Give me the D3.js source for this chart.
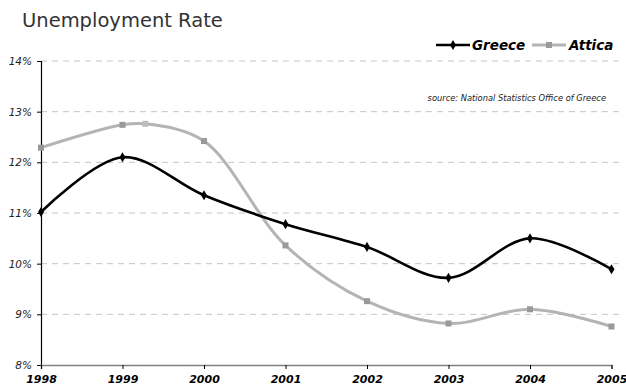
<!DOCTYPE html>
<html>
<head>
<meta charset="utf-8">
<script src="https://cdn.jsdelivr.net/npm/d3@7"></script>
<style>
  html, body { margin: 0; padding: 0; background: #fff; }
  svg { display: block; }
</style>
</head>
<body>
<svg id="chart" width="626" height="389"></svg>
<script>
// Unemployment rate, Greece vs. Attica region (percent)
const years = [1998, 1999, 2000, 2001, 2002, 2003, 2004, 2005];
const greeceYears = [1998, 1999, 2000, 2001, 2002, 2003, 2004, 2005];
const greeceRate  = [11.02, 12.10, 11.35, 10.78, 10.33, 9.72, 10.50, 9.89];
const atticaYears = [1998, 1999, 1999.28, 2000, 2001, 2002, 2003, 2004, 2005];
const atticaRate  = [12.29, 12.74, 12.76, 12.42, 10.36, 9.26, 8.82, 9.10, 8.76];
const yTicks = [8, 9, 10, 11, 12, 13, 14];
const seriesNames = ["Greece", "Attica"];
const titleText = "Unemployment Rate";
const sourceText = "source: National Statistics Office of Greece";

const svg = d3.select("#chart");
const font = "'DejaVu Sans', Verdana, sans-serif";

const x = d3.scaleLinear().domain([1998, 2005]).range([41, 611.5]);
const y = d3.scaleLinear().domain([8, 14]).range([365, 61]);

// title
svg.append("text")
  .attr("x", 22).attr("y", 27)
  .attr("font-family", font).attr("font-size", 19.5)
  .attr("fill", "#333")
  .text(titleText);

// horizontal dashed gridlines
svg.append("g").selectAll("line")
  .data(yTicks.filter(d => d > 8))
  .join("line")
  .attr("x1", x(1998)).attr("x2", x(2005) + 8)
  .attr("y1", d => y(d)).attr("y2", d => y(d))
  .attr("stroke", "#c4c4c4").attr("stroke-width", 1)
  .attr("stroke-dasharray", "6,5");

// y axis
const yAxis = d3.axisLeft(y).tickValues(yTicks).tickSize(4).tickFormat(d => d + "%");
const gy = svg.append("g").attr("transform", `translate(${x(1998)},0)`).call(yAxis);
gy.select(".domain").attr("stroke", "#000").attr("stroke-width", 1.2);
gy.selectAll(".tick line").attr("stroke", "#000");
gy.selectAll(".tick text")
  .attr("font-family", font).attr("font-size", 10.5)
  .attr("font-style", "italic").attr("fill", "#222")
  .attr("x", -9);

// x axis
const xAxis = d3.axisBottom(x).tickValues(years).tickSize(4).tickFormat(d3.format("d"));
const gx = svg.append("g").attr("transform", `translate(0,${y(8)})`).call(xAxis);
gx.select(".domain").attr("stroke", "#808080").attr("stroke-width", 1.5);
gx.selectAll(".tick line").attr("stroke", "#000");
gx.selectAll(".tick text")
  .attr("font-family", font).attr("font-size", 11)
  .attr("font-style", "italic").attr("font-weight", "bold")
  .attr("fill", "#000").attr("y", 10);

const line = d3.line()
  .x(d => x(d[0])).y(d => y(d[1]))
  .curve(d3.curveCatmullRom.alpha(0.5));

const greece = greeceYears.map((yr, i) => [yr, greeceRate[i]]);
const attica = atticaYears.map((yr, i) => [yr, atticaRate[i]]);

// Attica line + square markers
svg.append("path")
  .attr("d", line(attica))
  .attr("fill", "none").attr("stroke", "#b4b4b4").attr("stroke-width", 3);
svg.append("g").selectAll("rect")
  .data(attica)
  .join("rect")
  .attr("x", d => x(d[0]) - 3).attr("y", d => y(d[1]) - 3)
  .attr("width", 6).attr("height", 6)
  .attr("fill", d => d[0] % 1 === 0 ? "#999" : "#bdbdbd");

// Greece line + diamond markers
svg.append("path")
  .attr("d", line(greece))
  .attr("fill", "none").attr("stroke", "#000").attr("stroke-width", 2.6);
const diamond = d3.symbol().type(d3.symbolDiamond).size(30);
svg.append("g").selectAll("path")
  .data(greece)
  .join("path")
  .attr("transform", d => `translate(${x(d[0])},${y(d[1])})`)
  .attr("d", diamond)
  .attr("fill", "#000");

// legend
const lg = svg.append("g");
lg.append("line").attr("x1", 436).attr("x2", 470).attr("y1", 45).attr("y2", 45)
  .attr("stroke", "#000").attr("stroke-width", 2.6);
lg.append("path").attr("transform", "translate(453,45)").attr("d", diamond).attr("fill", "#000");
lg.append("text").attr("x", 472).attr("y", 50)
  .attr("font-family", font).attr("font-size", 13.5)
  .attr("font-style", "italic").attr("font-weight", "bold")
  .text(seriesNames[0]);
lg.append("line").attr("x1", 532).attr("x2", 566).attr("y1", 45).attr("y2", 45)
  .attr("stroke", "#b4b4b4").attr("stroke-width", 3);
lg.append("rect").attr("x", 546).attr("y", 42).attr("width", 6).attr("height", 6).attr("fill", "#999");
lg.append("text").attr("x", 569).attr("y", 50)
  .attr("font-family", font).attr("font-size", 13.5)
  .attr("font-style", "italic").attr("font-weight", "bold")
  .text(seriesNames[1]);

// source note
svg.append("text")
  .attr("x", 606).attr("y", 101)
  .attr("text-anchor", "end")
  .attr("font-family", font).attr("font-size", 8.3)
  .attr("font-style", "italic").attr("fill", "#222")
  .text(sourceText);
</script>
</body>
</html>
